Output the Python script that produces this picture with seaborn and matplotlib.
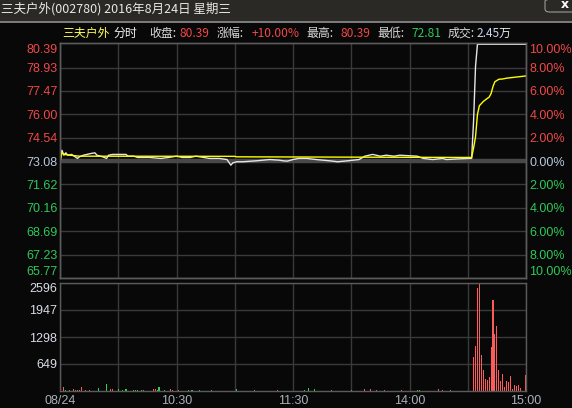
import matplotlib
matplotlib.use("Agg")
import matplotlib.pyplot as plt
from matplotlib.patches import Rectangle, FancyBboxPatch
import seaborn as sns
import pandas as pd

# ---------------- data ----------------
prev_close = 73.08
price_ticks = [65.77, 67.23, 68.69, 70.16, 71.62, 73.08, 74.54, 76.00, 77.47, 78.93, 80.39]
price_tick_labels = ["65.77", "67.23", "68.69", "70.16", "71.62", "73.08",
                     "74.54", "76.00", "77.47", "78.93", "80.39"]
pct_tick_labels = ["10.00%", "8.00%", "6.00%", "4.00%", "2.00%", "0.00%",
                   "2.00%", "4.00%", "6.00%", "8.00%", "10.00%"]
tick_side = ["down"] * 5 + ["flat"] + ["up"] * 5

vol_ticks = [649, 1298, 1947, 2596]
vol_tick_labels = ["649", "1298", "1947", "2596"]

time_ticks = [0, 30, 60, 90, 120, 150, 180, 210, 240]
time_tick_labels = ["08/24", "", "10:30", "", "11:30", "", "14:00", "", "15:00"]

# minute index (0 = 9:30, 120 = 11:30/13:00, 240 = 15:00)
price_min = [0, 1, 2, 3, 4, 6, 9, 10, 12, 16, 18, 19, 22, 24, 25, 27, 34, 35, 38, 40,
             46, 52, 56, 60, 63, 67, 70, 74, 77, 82, 86, 88, 89, 91, 94, 101, 108,
             113, 115, 117, 120, 123, 127, 132, 139, 143, 148, 154, 157, 161, 165,
             168, 172, 175, 184, 187, 192, 197, 199, 205, 211, 212, 213, 214, 215, 240]
price_val = [73.14, 73.76, 73.45, 73.60, 73.45, 73.50, 73.25, 73.35, 73.45, 73.56,
             73.60, 73.45, 73.35, 73.25, 73.45, 73.50, 73.50, 73.39, 73.39, 73.31,
             73.31, 73.25, 73.31, 73.39, 73.31, 73.31, 73.39, 73.31, 73.25, 73.25,
             73.18, 72.83, 72.97, 73.04, 73.04, 73.10, 73.18, 73.14, 73.10, 73.08,
             73.18, 73.25, 73.25, 73.18, 73.10, 73.04, 73.10, 73.18, 73.39, 73.50,
             73.39, 73.45, 73.39, 73.45, 73.39, 73.25, 73.18, 73.25, 73.18, 73.22,
             73.25, 73.25, 75.60, 79.00, 80.39, 80.39]

avg_min = [0, 1, 2, 5, 10, 90, 91, 150, 212, 213, 214, 215, 216, 218, 220, 221, 222,
           223, 224, 226, 228, 230, 235, 240]
avg_val = [73.04, 73.60, 73.51, 73.45, 73.39, 73.38, 73.35, 73.33, 73.31, 73.90,
           74.60, 76.00, 76.55, 76.81, 77.00, 77.08, 77.30, 77.75, 78.05, 78.20,
           78.22, 78.27, 78.34, 78.41]

vol_min = [2, 3, 5, 7, 8, 9, 10, 11, 13, 15, 20, 24, 26, 27, 30, 32, 34, 38, 39, 40,
           42, 43, 48, 49, 50, 51, 54, 57, 58, 61, 66, 68, 72, 78, 91, 100, 112, 126,
           128, 131, 140, 150, 157, 160, 163, 167, 176, 184, 185, 195, 197, 201,
           213, 214, 215, 216, 217, 218, 219, 220, 221, 222, 223, 224, 225, 226,
           227, 228, 229, 230, 231, 232, 233, 234, 235, 236, 237, 240]
vol_val = [88, 24, 24, 40, 24, 24, 24, 96, 24, 24, 80, 176, 48, 48, 48, 24, 48, 24,
           24, 24, 24, 24, 48, 48, 32, 96, 24, 48, 24, 24, 24, 24, 24, 24, 48, 24,
           24, 24, 72, 48, 24, 24, 48, 48, 24, 24, 24, 24, 24, 48, 24, 24,
           825, 1092, 2467, 2596, 873, 510, 299, 267, 340, 1067, 2184, 1359, 1553,
           510, 243, 412, 97, 243, 218, 364, 49, 146, 121, 146, 73, 388]
vol_dir = ["up", "down", "down", "up", "up", "down", "up", "up", "up", "up",
           "down", "down", "up", "up", "down", "down", "down", "down", "down", "down",
           "up", "down", "up", "up", "up", "down", "down", "up", "up", "up", "down",
           "down", "down", "up", "down", "down", "up", "down", "down", "down", "up",
           "down", "up", "up", "up", "up", "up", "down", "down", "up", "up", "up"] + ["up"] * 26

# ---------------- style ----------------
RED = "#f04848"
GREEN = "#2ec85a"
FLAT = "#b8c8dc"
GRID = "#3a3a3a"
SPINE = "#5a5a5a"
BG = "#080808"

sns.set_theme(style="dark")
plt.rcParams['font.family'] = ['Noto Sans CJK SC', 'DejaVu Sans']

W, H = 572, 408
fig = plt.figure(figsize=(W / 100, H / 100), dpi=100, facecolor=BG)


def px_axes(x0, y0, x1, y1):
    return fig.add_axes([x0 / W, 1 - y1 / H, (x1 - x0) / W, (y1 - y0) / H])


# title bar
fig.patches.append(Rectangle((0, 1 - 21 / H), 1, 21 / H, transform=fig.transFigure,
                             facecolor="#2a2925", edgecolor="none", zorder=0))
fig.patches.append(Rectangle((0, 1 - 22.5 / H), 1, 1.5 / H, transform=fig.transFigure,
                             facecolor="#7a7a7a", edgecolor="none", zorder=0))
fig.text(1 / W, 1 - 9 / H, "三夫户外(002780) 2016年8月24日 星期三", color="#e8e8e8",
         fontsize=9, va="center", ha="left")
fig.patches.append(FancyBboxPatch((545 / W, 1 - 12 / H), 30 / W, 14 / H,
                                  boxstyle="round,pad=0,rounding_size=0.008",
                                  transform=fig.transFigure, facecolor="none",
                                  edgecolor="#9a9a9a", lw=0.8))
fig.text(565 / W, 1 - 5 / H, "x", color="white", fontsize=9, fontweight="bold",
         va="center", ha="center", family="DejaVu Sans")

# header row
hdr_y = 1 - 33.5 / H
hdr = [(62.5, "三夫户外", "#ffff60"), (114, "分时", "#f0f0f0"),
       (149, "收盘:", "#d8d8d8"), (180, "80.39", RED),
       (217, "涨幅:", "#d8d8d8"), (252, "+10.00%", RED),
       (306.5, "最高:", "#d8d8d8"), (340.5, "80.39", RED),
       (377, "最低:", "#d8d8d8"), (411, "72.81", GREEN),
       (448, "成交:", "#d8d8d8"), (476.5, "2.45", "#c8d8f0"), (498.5, "万", "#e8e8e8")]
for x, s, c in hdr:
    fig.text(x / W, hdr_y, s, color=c, fontsize=8.6, va="center", ha="left")

num_font = dict(family="Liberation Sans", size=9)

# ---------------- price panel ----------------
ax = px_axes(60, 43, 526, 278)
ax.set_facecolor(BG)
ax.set_xlim(0, 240)
ax.set_ylim(price_ticks[0], price_ticks[-1] + 0.08)
ax.set_xticks(time_ticks)
ax.set_xticklabels([])
ax.set_yticks(price_ticks)
ax.set_yticklabels(price_tick_labels, fontdict=num_font)
ax.grid(True, color=GRID, lw=1)
ax.get_ygridlines()[-1].set_visible(False)
ax.tick_params(length=0, pad=2)
ax.axhline(prev_close, color="#484848", lw=3.2, zorder=1.5)

sns.lineplot(x=price_min, y=price_val, ax=ax, color="#e6e6e6", linewidth=1.0,
             errorbar=None, zorder=3)
sns.lineplot(x=avg_min, y=avg_val, ax=ax, color="#ffff00", linewidth=1.0,
             errorbar=None, zorder=4)
ax.set_xlabel("")
ax.set_ylabel("")

axr = ax.twinx()
axr.set_ylim(price_ticks[0], price_ticks[-1] + 0.08)
axr.set_yticks(price_ticks)
axr.set_yticklabels(pct_tick_labels, fontdict=num_font)
axr.tick_params(length=0, pad=2.5)
axr.grid(False)

for a in (ax, axr):
    labs = a.get_yticklabels()
    for lab, side in zip(labs, tick_side):
        lab.set_color({"up": RED, "down": GREEN, "flat": FLAT}[side])
    labs[0].set_verticalalignment("bottom")
    labs[-1].set_verticalalignment("top")
    for sp in a.spines.values():
        sp.set_color(SPINE)
        sp.set_linewidth(1)

# ---------------- volume panel ----------------
axv = px_axes(60, 283, 526, 391)
axv.set_facecolor(BG)
vol_df = pd.DataFrame({"minute": vol_min, "volume": vol_val, "dir": vol_dir})
sns.barplot(data=vol_df, x="minute", y="volume", hue="dir",
            palette={"up": "#ff5a5a", "down": "#30d050"}, native_scale=True,
            dodge=False, width=0.55, saturation=1, legend=False, linewidth=0,
            errorbar=None, ax=axv)
axv.set_xlim(0, 240)
axv.set_ylim(0, 2596)
axv.set_xticks(time_ticks)
axv.set_xticklabels(time_tick_labels, fontdict=num_font, color="#a8b0b8")
axv.set_yticks(vol_ticks)
axv.set_yticklabels(vol_tick_labels, fontdict=num_font, color="#d8dce4")
axv.get_yticklabels()[-1].set_verticalalignment("top")
axv.tick_params(length=0, pad=2)
axv.tick_params(axis="x", pad=3)
axv.grid(True, color=GRID, lw=1)
axv.set_axisbelow(True)
axv.set_xlabel("")
axv.set_ylabel("")
for sp in axv.spines.values():
    sp.set_color(SPINE)
    sp.set_linewidth(1)

fig.savefig("out.png", dpi=100, facecolor=fig.get_facecolor())
